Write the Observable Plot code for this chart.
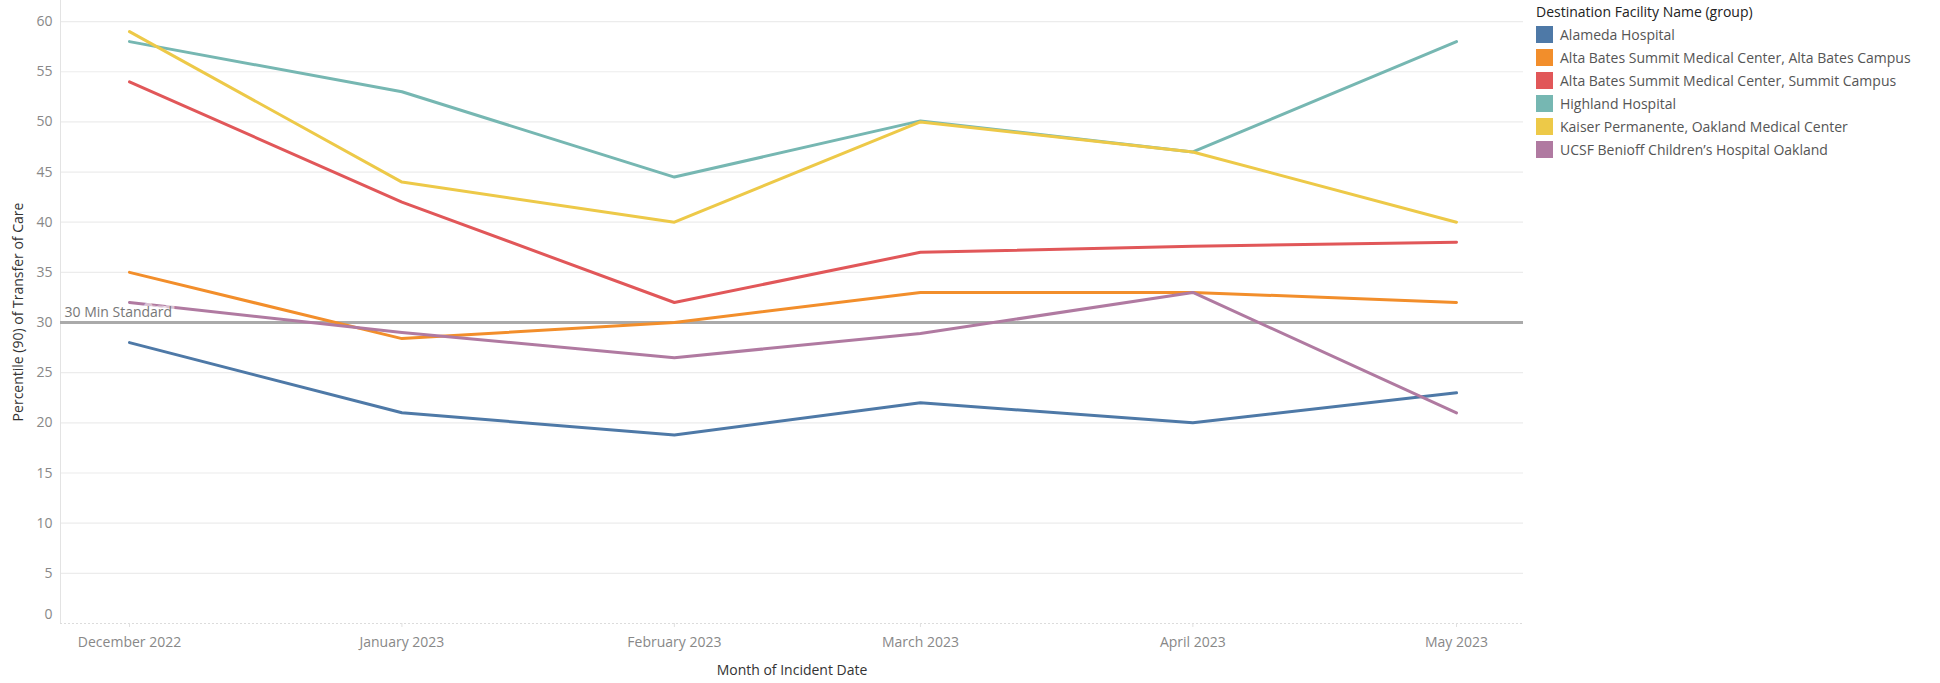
<!DOCTYPE html>
<html><head><meta charset="utf-8">
<script src="https://cdn.jsdelivr.net/npm/d3@7"></script>
<script src="https://cdn.jsdelivr.net/npm/@observablehq/plot@0.6"></script>
<style>
body{margin:0;background:#fff;font-family:"Open Sans",sans-serif;}
#wrap{position:relative;width:1940px;height:683px;overflow:hidden;}
#chart{position:absolute;left:0;top:0;}
#legend{position:absolute;left:1536px;top:1px;font-family:"Open Sans",sans-serif;}
#legend .title{font-size:14px;color:#222;height:22px;line-height:22px;font-weight:400;}
#legend .row{display:flex;align-items:center;height:23px;}
#legend .sw{width:17px;height:17px;margin-right:7px;flex:none;}
#legend .lab{font-size:14px;color:#555;white-space:nowrap;}
</style></head><body>
<div id="wrap"><div id="chart"></div><div id="legend"></div></div>
<script>
const months = ["2022-12-01","2023-01-01","2023-02-01","2023-03-01","2023-04-01","2023-05-01"];
const monthLabels = ["December 2022","January 2023","February 2023","March 2023","April 2023","May 2023"];
const facilities = [
  "Alameda Hospital",
  "Alta Bates Summit Medical Center, Alta Bates Campus",
  "Alta Bates Summit Medical Center, Summit Campus",
  "Highland Hospital",
  "Kaiser Permanente, Oakland Medical Center",
  "UCSF Benioff Children\u2019s Hospital Oakland"
];
const colors = ["#4e79a7","#f28e2b","#e15759","#76b7b2","#edc948","#b07aa1"];
const alameda      = [28, 21, 18.8, 22, 20, 23];
const altaBates    = [35, 28.4, 30, 33, 33, 32];
const summit       = [54, 42, 32, 37, 37.6, 38];
const highland     = [58, 53, 44.5, 50.1, 47, 58];
const kaiser       = [59, 44, 40, 50, 47, 40];
const ucsf         = [32, 29, 26.5, 28.9, 33, 21];
const yTicks = [0,5,10,15,20,25,30,35,40,45,50,55,60];
const standard = 30;
const standardLabel = "30 Min Standard";
const xTitle = "Month of Incident Date";
const yTitle = "Percentile (90) of Transfer of Care";
const legendTitle = "Destination Facility Name (group)";

const dates = months.map(d => new Date(d + "T00:00:00Z"));
const series = [alameda, altaBates, summit, highland, kaiser, ucsf];
const rows = [];
series.forEach((vals, s) => vals.forEach((v, i) => rows.push({facility: facilities[s], date: dates[i], value: v})));
const fmt = d => monthLabels[dates.findIndex(m => +m === +d)];

const chart = Plot.plot({
  width: 1525, height: 683,
  marginLeft: 60, marginRight: 2, marginTop: 0, marginBottom: 60,
  style: {fontFamily: "Open Sans, sans-serif", fontSize: "14px", background: "#fff", color: "#888"},
  x: {type: "utc", domain: [dates[0], dates[dates.length - 1]], insetLeft: 69, insetRight: 67},
  y: {domain: [0, 62.1]},
  color: {domain: facilities, range: colors},
  marks: [
    Plot.gridY(yTicks.filter(t => t > 0), {stroke: "#ececec", strokeOpacity: 1, strokeWidth: 1.2}),
    Plot.frame({anchor: "left", stroke: "#e3e3e3"}),
    Plot.ruleY([0], {stroke: "#dcdcdc", strokeDasharray: "2,2"}),
    Plot.axisY(yTicks.filter(t => t > 0), {tickSize: 0, tickPadding: 8, label: null, fill: "#888"}),
    Plot.axisY(yTicks.filter(t => t === 0), {tickSize: 0, tickPadding: 8, label: null, fill: "#888", dy: -9}),
    Plot.axisX(dates, {tickFormat: fmt, tickSize: 4, tickPadding: 10, stroke: "#e0e0e0", fill: "#888", label: null}),
    Plot.ruleY([standard], {stroke: "#aaaaaa", strokeWidth: 3}),
    Plot.line(rows, {x: "date", y: "value", z: "facility", stroke: "facility", strokeWidth: 3, strokeLinejoin: "round", strokeLinecap: "round"}),
    Plot.text([standard], {y: d => d, frameAnchor: "left", textAnchor: "start", dx: 4, dy: -10, text: () => standardLabel,
      fill: "#777", stroke: "white", strokeOpacity: 0.55, strokeWidth: 7, fontSize: 14}),
    Plot.text([xTitle], {frameAnchor: "bottom", dy: 51, text: d => d, fill: "#333", fontSize: 14}),
    Plot.text([yTitle], {frameAnchor: "left", textAnchor: "middle", dx: -42, rotate: -90, text: d => d, fill: "#333", fontSize: 14})
  ]
});
document.getElementById("chart").appendChild(chart);

const legend = d3.select("#legend");
legend.append("div").attr("class", "title").text(legendTitle);
facilities.forEach((f, i) => {
  const r = legend.append("div").attr("class", "row");
  r.append("div").attr("class", "sw").style("background", colors[i]);
  r.append("div").attr("class", "lab").text(f);
});
</script>
</body></html>
